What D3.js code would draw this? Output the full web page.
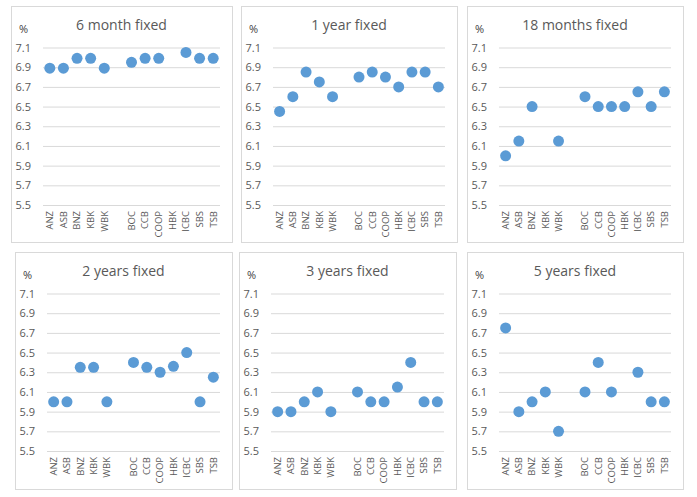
<!DOCTYPE html>
<html>
<head>
<meta charset="utf-8">
<script src="https://cdn.jsdelivr.net/npm/d3@7"></script>
<style>
  html, body { margin: 0; padding: 0; background: #ffffff; }
  svg { display: block; }
  text { font-family: "Open Sans", "Noto Sans", "Liberation Sans", sans-serif; }
</style>
</head>
<body>
<svg id="chart" width="697" height="497"></svg>
<script>
// ---------- data ----------
const categories = ["ANZ", "ASB", "BNZ", "KBK", "WBK", "", "BOC", "CCB", "COOP", "HBK", "ICBC", "SBS", "TSB"];
const yTicks = [5.5, 5.7, 5.9, 6.1, 6.3, 6.5, 6.7, 6.9, 7.1];
const titles = ["6 month fixed", "1 year fixed", "18 months fixed", "2 years fixed", "3 years fixed", "5 years fixed"];
const sixMonth   = [6.89, 6.89, 6.99, 6.99, 6.89, null, 6.95, 6.99, 6.99, null, 7.05, 6.99, 6.99];
const oneYear    = [6.45, 6.60, 6.85, 6.75, 6.60, null, 6.80, 6.85, 6.80, 6.70, 6.85, 6.85, 6.70];
const eighteenM  = [6.00, 6.15, 6.50, null, 6.15, null, 6.60, 6.50, 6.50, 6.50, 6.65, 6.50, 6.65];
const twoYears   = [6.00, 6.00, 6.35, 6.35, 6.00, null, 6.40, 6.35, 6.30, 6.36, 6.50, 6.00, 6.25];
const threeYears = [5.90, 5.90, 6.00, 6.10, 5.90, null, 6.10, 6.00, 6.00, 6.15, 6.40, 6.00, 6.00];
const fiveYears  = [6.75, 5.90, 6.00, 6.10, 5.70, null, 6.10, 6.40, 6.10, null, 6.30, 6.00, 6.00];
const seriesList = [sixMonth, oneYear, eighteenM, twoYears, threeYears, fiveYears];

// ---------- layout ----------
const panels = [
  {x: 11,  y: 6,   w: 221, h: 236},
  {x: 241, y: 6,   w: 216, h: 236},
  {x: 467, y: 6,   w: 216, h: 236},
  {x: 15,  y: 252, w: 217, h: 237},
  {x: 239, y: 252, w: 217, h: 237},
  {x: 467, y: 252, w: 216, h: 237}
];

const svg = d3.select("#chart");

panels.forEach((p, i) => {
  const g = svg.append("g").attr("transform", `translate(${p.x},${p.y})`);
  g.append("rect")
    .attr("x", 0.5).attr("y", 0.5)
    .attr("width", p.w).attr("height", p.h)
    .attr("fill", "#ffffff").attr("stroke", "#d9d9d9").attr("stroke-width", 1);

  const left = 32, right = p.w - 12, top = 41.5, bottom = 199;
  const x = d3.scaleBand().domain(categories.map((c, k) => k)).range([left, right]).padding(0);
  const y = d3.scaleLinear().domain([5.5, 7.1]).range([bottom, top]);

  // gridlines + y labels
  const ya = g.append("g").attr("transform", `translate(${left},0)`)
    .call(d3.axisLeft(y).tickValues(yTicks).tickFormat(d3.format(".1f")).tickSize(-(right - left)).tickPadding(12));
  ya.select(".domain").remove();
  ya.selectAll(".tick line").attr("stroke", "#d9d9d9").attr("stroke-width", 1);
  ya.selectAll(".tick text").attr("fill", "#595959").style("font-size", "11px")
    .style("font-family", "'Open Sans', 'Noto Sans', sans-serif");

  // x labels
  const xa = g.append("g").attr("transform", `translate(0,${bottom})`)
    .call(d3.axisBottom(x).tickSize(0).tickFormat(k => categories[k]));
  xa.select(".domain").remove();
  xa.selectAll(".tick text")
    .attr("transform", "rotate(-90)")
    .attr("x", -6).attr("y", 0).attr("dy", "0.35em")
    .attr("text-anchor", "end")
    .attr("fill", "#595959").style("font-size", "9.5px")
    .style("font-family", "'Open Sans', 'Noto Sans', sans-serif");

  // title
  g.append("text").attr("x", p.w / 2).attr("y", 24)
    .attr("text-anchor", "middle").attr("fill", "#595959")
    .style("font-size", "14px").text(titles[i]);

  // % label
  g.append("text").attr("x", 8).attr("y", 27)
    .attr("fill", "#404040").style("font-size", "11px").text("%");

  // dots
  const pts = seriesList[i].map((v, k) => ({k, v})).filter(d => d.v !== null);
  g.selectAll("circle.dot").data(pts).join("circle")
    .attr("class", "dot")
    .attr("cx", d => x(d.k) + x.bandwidth() / 2)
    .attr("cy", d => y(d.v))
    .attr("r", 5.5)
    .attr("fill", "#5b9bd5");
});
</script>
</body>
</html>
